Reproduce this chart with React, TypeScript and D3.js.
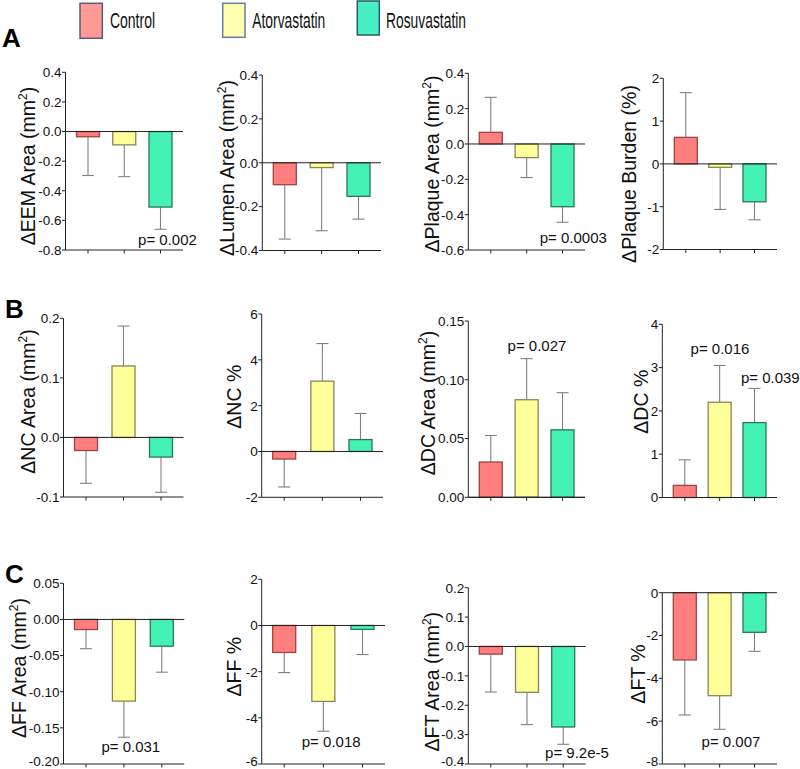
import React from "react";
import * as d3 from "d3";

const categories = ["Control", "Atorvastatin", "Rosuvastatin"];
const fills = ["#FF7F7F", "#FFFF99", "#44F2B4"];
const strokes = ["#9a4545", "#86865a", "#2c765c"];
const legendFills = ["#FF9A94", "#FFFFB0", "#48F0C4"];
const legendStrokes = ["#5a5a86", "#6a7aa0", "#2a5a6a"];

// Row A
const eemMeans = [-0.035, -0.09, -0.51];
const eemErr = [-0.297, -0.305, -0.66];
const eemTicks = [0.4, 0.2, 0.0, -0.2, -0.4, -0.6, -0.8];

const lumenMeans = [-0.1, -0.022, -0.153];
const lumenErr = [-0.348, -0.31, -0.257];
const lumenTicks = [0.4, 0.2, 0.0, -0.2, -0.4];

const plaqueMeans = [0.066, -0.077, -0.355];
const plaqueErr = [0.264, -0.19, -0.443];
const plaqueTicks = [0.4, 0.2, 0.0, -0.2, -0.4, -0.6];

const burdenMeans = [0.62, -0.08, -0.885];
const burdenErr = [1.665, -1.064, -1.306];
const burdenTicks = [2, 1, 0, -1, -2];

// Row B
const ncAreaMeans = [-0.022, 0.12, -0.033];
const ncAreaErr = [-0.077, 0.187, -0.092];
const ncAreaTicks = [0.2, 0.1, 0.0, -0.1];

const ncPctMeans = [-0.33, 3.07, 0.52];
const ncPctErr = [-1.55, 4.71, 1.66];
const ncPctTicks = [6, 4, 2, 0, -2];

const dcAreaMeans = [0.03, 0.083, 0.0574];
const dcAreaErr = [0.0526, 0.118, 0.089];
const dcAreaTicks = [0.15, 0.1, 0.05, 0.0];

const dcPctMeans = [0.28, 2.2, 1.73];
const dcPctErr = [0.87, 3.05, 2.52];
const dcPctTicks = [4, 3, 2, 1, 0];

// Row C
const ffAreaMeans = [-0.014, -0.113, -0.037];
const ffAreaErr = [-0.0405, -0.163, -0.073];
const ffAreaTicks = [0.05, 0.0, -0.05, -0.1, -0.15, -0.2];

const ffPctMeans = [-1.17, -3.29, -0.17];
const ffPctErr = [-2.04, -4.58, -1.26];
const ffPctTicks = [2, 0, -2, -4, -6];

const ftAreaMeans = [-0.026, -0.156, -0.274];
const ftAreaErr = [-0.155, -0.266, -0.333];
const ftAreaTicks = [0.2, 0.1, 0.0, -0.1, -0.2, -0.3, -0.4];

const ftPctMeans = [-3.14, -4.81, -1.85];
const ftPctErr = [-5.71, -6.38, -2.74];
const ftPctTicks = [0, -2, -4, -6, -8];

type Ann = { text: string; dx: number; v: number };
type Panel = {
  label: string;
  sup: boolean;
  means: number[];
  errs: number[];
  ticks: number[];
  fmt: string;
  ann: Ann[];
  // layout
  x0: number;
  x1: number;
  top: number;
  bottom: number;
  lx: number;
  ly: number;
};

const panels: Panel[] = [
  { label: "ΔEEM Area (mm", sup: true, means: eemMeans, errs: eemErr, ticks: eemTicks, fmt: ".1f",
    ann: [{ text: "p= 0.002", dx: 102, v: -0.766 }], x0: 65.5, x1: 183, top: 72.3, bottom: 250, lx: 34.5, ly: 166 },
  { label: "ΔLumen Area (mm", sup: true, means: lumenMeans, errs: lumenErr, ticks: lumenTicks, fmt: ".1f",
    ann: [], x0: 262.3, x1: 381, top: 75, bottom: 250.5, lx: 233.5, ly: 168 },
  { label: "ΔPlaque Area (mm", sup: true, means: plaqueMeans, errs: plaqueErr, ticks: plaqueTicks, fmt: ".1f",
    ann: [{ text: "p= 0.0003", dx: 105, v: -0.56 }], x0: 468.3, x1: 585, top: 73.3, bottom: 250, lx: 439, ly: 164 },
  { label: "ΔPlaque Burden (%)", sup: false, means: burdenMeans, errs: burdenErr, ticks: burdenTicks, fmt: "d",
    ann: [], x0: 663.3, x1: 777, top: 78.3, bottom: 249.5, lx: 636, ly: 174 },

  { label: "ΔNC Area (mm", sup: true, means: ncAreaMeans, errs: ncAreaErr, ticks: ncAreaTicks, fmt: ".1f",
    ann: [], x0: 63.5, x1: 183.5, top: 318.3, bottom: 497, lx: 34.5, ly: 401.5 },
  { label: "ΔNC %", sup: false, means: ncPctMeans, errs: ncPctErr, ticks: ncPctTicks, fmt: "d",
    ann: [], x0: 261.7, x1: 383, top: 314, bottom: 497.3, lx: 241, ly: 396.7 },
  { label: "ΔDC Area (mm", sup: true, means: dcAreaMeans, errs: dcAreaErr, ticks: dcAreaTicks, fmt: ".2f",
    ann: [{ text: "p= 0.027", dx: 68.7, v: 0.1247 }], x0: 468.3, x1: 585, top: 321, bottom: 497.3, lx: 435, ly: 403 },
  { label: "ΔDC %", sup: false, means: dcPctMeans, errs: dcPctErr, ticks: dcPctTicks, fmt: "d",
    ann: [{ text: "p= 0.016", dx: 57.7, v: 3.305 }, { text: "p= 0.039", dx: 108, v: 2.647 }],
    x0: 662.3, x1: 777, top: 324.3, bottom: 497.5, lx: 648, ly: 401.7 },

  { label: "ΔFF Area (mm", sup: true, means: ffAreaMeans, errs: ffAreaErr, ticks: ffAreaTicks, fmt: ".2f",
    ann: [{ text: "p= 0.031", dx: 67.3, v: -0.183 }], x0: 63.5, x1: 184.3, top: 583.3, bottom: 764, lx: 26, ly: 668 },
  { label: "ΔFF %", sup: false, means: ffPctMeans, errs: ffPctErr, ticks: ffPctTicks, fmt: "d",
    ann: [{ text: "p= 0.018", dx: 69.5, v: -5.25 }], x0: 261.7, x1: 385, top: 579.3, bottom: 764, lx: 241, ly: 666.7 },
  { label: "ΔFT Area (mm", sup: true, means: ftAreaMeans, errs: ftAreaErr, ticks: ftAreaTicks, fmt: ".1f",
    ann: [{ text: "p= 9.2e-5", dx: 108.7, v: -0.381 }], x0: 468.3, x1: 585.7, top: 587.7, bottom: 764, lx: 439, ly: 681.7 },
  { label: "ΔFT %", sup: false, means: ftPctMeans, errs: ftPctErr, ticks: ftPctTicks, fmt: "d",
    ann: [{ text: "p= 0.007", dx: 68.7, v: -7.19 }], x0: 662.3, x1: 777, top: 592.7, bottom: 764, lx: 645, ly: 674 },
];

const FONT = "'Liberation Sans', Arial, Helvetica, sans-serif";
const AXIS = "#222";
const ERR = "#808080";
const H = 769;

function PanelChart({ p }: { p: Panel }) {
  const lo = d3.min(p.ticks) as number;
  const hi = d3.max(p.ticks) as number;
  const y = d3.scaleLinear().domain([lo, hi]).range([p.bottom, p.top]);
  const x = d3.scalePoint<string>().domain(categories).range([p.x0 + 22.5, p.x1 - 22.5]);
  const bw = 23;
  const cap = 12;
  const f = d3.format(p.fmt);
  const fmt = (v: number) => f(v).replace("\u2212", "-");
  const y0 = y(0);
  return (
    <g>
      {categories.map((c, i) => {
        const cx = x(c) as number;
        const yv = y(p.means[i]);
        const ye = y(p.errs[i]);
        return (
          <g key={c}>
            <line x1={cx} x2={cx} y1={yv} y2={ye} stroke={ERR} strokeWidth={1.1} />
            <line x1={cx - cap / 2} x2={cx + cap / 2} y1={ye} y2={ye} stroke={ERR} strokeWidth={1.1} />
            <rect
              x={cx - bw / 2}
              y={Math.min(yv, y0)}
              width={bw}
              height={Math.abs(yv - y0)}
              fill={fills[i]}
              stroke={strokes[i]}
              strokeWidth={1.3}
            />
          </g>
        );
      })}
      <line x1={p.x0} x2={p.x1} y1={y0} y2={y0} stroke={AXIS} strokeWidth={1} />
      <line x1={p.x0} x2={p.x1} y1={p.bottom} y2={p.bottom} stroke={AXIS} strokeWidth={1} />
      {categories.map((c) => (
        <line key={c} x1={x(c)} x2={x(c)} y1={p.bottom} y2={p.bottom + 3.5} stroke={AXIS} strokeWidth={1} />
      ))}
      <line x1={p.x0} x2={p.x0} y1={p.top} y2={p.bottom} stroke={AXIS} strokeWidth={1} />
      {p.ticks.map((t) => (
        <g key={t}>
          <line x1={p.x0 - 3.5} x2={p.x0} y1={y(t)} y2={y(t)} stroke={AXIS} strokeWidth={1} />
          <text
            x={p.x0 - 4}
            y={Math.min(y(t), H - 7.5)}
            dy="0.36em"
            textAnchor="end"
            fontSize={13.5}
            fontFamily={FONT}
            fill="#111"
          >
            {fmt(t)}
          </text>
        </g>
      ))}
      <text
        transform={`translate(${p.lx},${p.ly}) rotate(-90)`}
        textAnchor="middle"
        fontSize={19.5}
        fontFamily={FONT}
        fill="#111"
      >
        {p.label}
        {p.sup && (
          <>
            <tspan fontSize={12} dy={-8}>2</tspan>
            <tspan dy={8}>)</tspan>
          </>
        )}
      </text>
      {p.ann.map((a) => (
        <text key={a.text} x={p.x0 + a.dx} y={y(a.v)} textAnchor="middle" fontSize={15} fontFamily={FONT} fill="#111">
          {a.text}
        </text>
      ))}
    </g>
  );
}

const legendBoxes = [
  { x: 80, y: 3.3, w: 22.3, h: 35, tx: 110, tl: 45 },
  { x: 222.7, y: 3.3, w: 22.3, h: 34, tx: 252.3, tl: 73 },
  { x: 357.3, y: 1, w: 22, h: 34, tx: 386, tl: 80 },
];

const rowLetters = [
  { t: "A", x: 2, y: 47 },
  { t: "B", x: 5, y: 318 },
  { t: "C", x: 5, y: 583 },
];

export default function App() {
  return (
    <svg
      width={800}
      height={769}
      viewBox="0 0 800 769"
      style={{ position: "absolute", left: 0, top: 0, background: "#fff" }}
    >
      <rect x={0} y={0} width={800} height={769} fill="#fff" />
      {categories.map((c, i) => {
        const b = legendBoxes[i];
        return (
          <g key={c}>
            <rect x={b.x} y={b.y} width={b.w} height={b.h} fill={legendFills[i]} stroke={legendStrokes[i]} strokeWidth={1.5} />
            <text
              x={b.tx}
              y={27.5}
              fontSize={22}
              fontFamily={FONT}
              fill="#111"
              textLength={b.tl}
              lengthAdjust="spacingAndGlyphs"
            >
              {c}
            </text>
          </g>
        );
      })}
      {rowLetters.map((r) => (
        <text key={r.t} x={r.x} y={r.y} fontSize={26} fontWeight="bold" fontFamily={FONT} fill="#000">
          {r.t}
        </text>
      ))}
      {panels.map((p, i) => (
        <PanelChart key={i} p={p} />
      ))}
    </svg>
  );
}
